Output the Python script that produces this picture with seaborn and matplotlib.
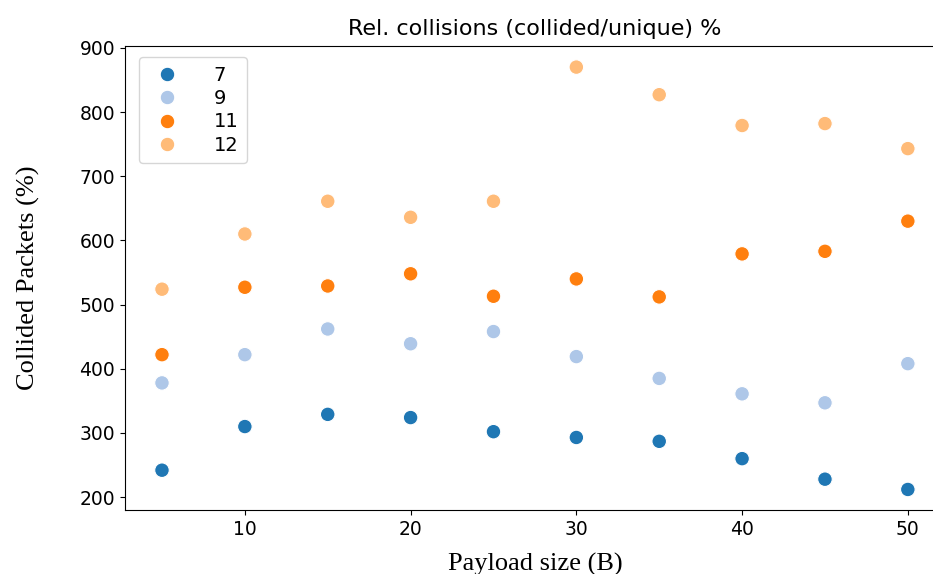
import matplotlib
matplotlib.use("Agg")
import matplotlib.pyplot as plt
import seaborn as sns
import pandas as pd

payload = [5, 10, 15, 20, 25, 30, 35, 40, 45, 50]
sf7 = [242, 310, 329, 324, 302, 293, 287, 260, 228, 212]
sf9 = [378, 422, 462, 439, 458, 419, 385, 361, 347, 408]
sf11 = [422, 527, 529, 548, 513, 540, 512, 579, 583, 630]
sf12 = [524, 610, 661, 636, 661, 870, 827, 779, 782, 743]
groups = ["7", "9", "11", "12"]
colors = ["#1f77b4", "#aec7e8", "#ff7f0e", "#ffbb78"]

rows = []
for g, vals in zip(groups, [sf7, sf9, sf11, sf12]):
    for x, v in zip(payload, vals):
        rows.append({"payload": x, "value": v, "sf": g})
df = pd.DataFrame(rows)

fig = plt.figure(figsize=(9.33, 5.74), dpi=100)
ax = fig.add_axes([0.134, 0.1115, 0.879, 0.8085])
sns.scatterplot(data=df, x="payload", y="value", hue="sf", hue_order=groups,
                palette=colors, s=110, edgecolor="white", linewidth=0.8, ax=ax)

ax.set_ylim(180, 903)
ax.set_xlim(2.77, 52.25)
ax.set_yticks([200, 300, 400, 500, 600, 700, 800, 900])
ax.set_xticks([10, 20, 30, 40, 50])
ax.tick_params(labelsize=13.5)
ax.set_title("Rel. collisions (collided/unique) %", fontsize=16, pad=8)
ax.set_xlabel("Payload size (B)", family="Liberation Serif", fontsize=19, labelpad=10)
ax.set_ylabel("Collided Packets (%)", family="Liberation Serif", fontsize=19)
ax.yaxis.set_label_coords(-0.104, 0.5)

leg = ax.legend(loc="upper left", fontsize=14, markerscale=1.0,
                borderpad=0.45, labelspacing=0.22, handletextpad=1.4,
                bbox_to_anchor=(0.005, 0.997))
leg.set_title(None)

fig.savefig("out.png", dpi=100)
